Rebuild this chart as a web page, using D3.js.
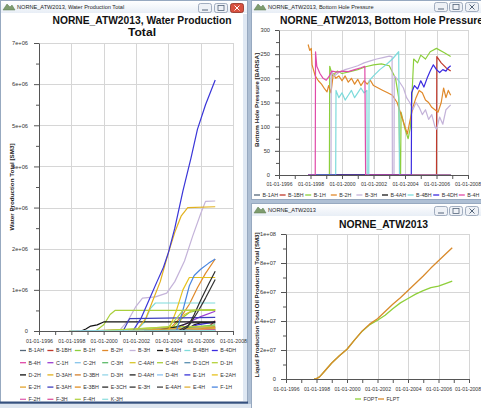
<!DOCTYPE html>
<html><head><meta charset="utf-8">
<script src="https://cdn.jsdelivr.net/npm/d3@7"></script>
<style>html,body{margin:0;padding:0;background:#b8c6d8;overflow:hidden}svg{display:block}</style>
</head><body><svg id="c" width="481" height="408"></svg>
<script>
// ---------------- DATA ----------------
const xYears = [1996,1997,1998,1999,2000,2001,2002,2003,2004,2005,2006,2007,2008];
const xLabelYears = [1996,1998,2000,2002,2004,2006,2008];

const wellNames = ["B-1AH","B-1BH","B-1H","B-2H","B-3H","B-4AH","B-4BH","B-4DH",
  "B-4H","C-1H","C-2H","C-3H","C-4AH","C-4H","D-1CH","D-1H",
  "D-2H","D-3AH","D-3BH","D-3H","D-4AH","D-4H","E-1H","E-2AH",
  "E-2H","E-3AH","E-3BH","E-3CH","E-3H","E-4AH","E-4H","F-1H",
  "F-2H","F-3H","F-4H","K-3H"];

const wellColors = ["#56687a","#c0392b","#8ccf3c","#e0892a","#c4b3d9","#1a1a1a","#7edbdb","#3b2be0",
  "#e04aa8","#9b3fd0","#86c5ea","#5dbb6a","#d9c72b","#a9cf3d","#5a8fb0","#b5d23a",
  "#111111","#e2b21f","#d4802e","#95d6e8","#222222","#8cc4f0","#3a35d8","#e6c21e",
  "#e3a52f","#3e3fbf","#e08f24","#2b2b2b","#333333","#444444","#dfb13a","#4a86e0",
  "#e266b4","#e0559e","#b3d344","#92e0e0"];

// Water production total [SM3]: [year, value] per well (same order as wellNames)
const waterValues = [
  [[2004.8,0],[2005.5,0.02e6],[2006.9,0.08e6]],
  [[2006.0,0],[2006.5,0.1e6],[2006.9,0.25e6]],
  [[1999.2,0],[2001,0.02e6],[2003,0.05e6],[2004.3,0.1e6],[2004.8,0.3e6],[2005.3,0.45e6],[2005.8,0.5e6],[2006.9,0.52e6]],
  [[1997.85,0],[2001,0.01e6],[2003,0.04e6],[2004.2,0.1e6],[2004.8,0.35e6],[2005.3,0.65e6],[2005.8,1.05e6],[2006.3,1.4e6],[2006.9,1.75e6]],
  [[1999.3,0],[2001.0,0.02e6],[2001.5,0.25e6],[2002.0,0.6e6],[2002.4,0.8e6],[2003.2,0.83e6],[2003.9,0.92e6],[2004.4,1.2e6],[2005.0,1.7e6],[2005.5,2.3e6],[2006.0,2.85e6],[2006.3,3.15e6],[2006.9,3.16e6]],
  [[2005.0,0],[2005.6,0.15e6],[2006.0,0.2e6],[2006.9,0.2e6]],
  [[1999.6,0],[2002.0,0.01e6],[2002.5,0.2e6],[2002.9,0.55e6],[2003.2,0.68e6],[2006.9,0.68e6]],
  [[2004.4,0],[2005.0,0.05e6],[2005.8,0.15e6],[2006.9,0.22e6]],
  [[1998.3,0],[2001.5,0.03e6],[2006.9,0.03e6]],
  [[2000.5,0],[2004.5,0.05e6],[2005.2,0.2e6],[2006.0,0.35e6],[2006.9,0.48e6]],
  [[2000.0,0],[2004.0,0.05e6],[2006.9,0.1e6]],
  [[2001.0,0],[2004.5,0.05e6],[2006.9,0.15e6]],
  [[2003.5,0],[2004.5,0.1e6],[2005.0,0.4e6],[2005.5,0.5e6],[2006.9,0.5e6]],
  [[1999.5,0],[2000.0,0.15e6],[2000.4,0.4e6],[2000.7,0.5e6],[2006.9,0.5e6]],
  [[2003.0,0],[2006.9,0.05e6]],
  [[1999.0,0],[2002.0,0.05e6],[2004.0,0.1e6],[2006.9,0.12e6]],
  [[1998.6,0],[1998.9,0.05e6],[1999.2,0.12e6],[1999.6,0.15e6],[2000.0,0.22e6],[2006.9,0.22e6]],
  [[2002.0,0],[2002.6,0.3e6],[2003.1,0.8e6],[2003.5,1.2e6],[2004.0,1.9e6],[2004.4,2.4e6],[2004.8,2.8e6],[2005.2,3.0e6],[2006.9,3.02e6]],
  [[2004.0,0],[2006.0,0.05e6],[2006.9,0.1e6]],
  [[1998.0,0],[2006.9,0.02e6]],
  [[2003.0,0],[2004.5,0.1e6],[2005.3,0.2e6],[2006.9,0.2e6]],
  [[1998.5,0],[2006.9,0.03e6]],
  [[2001.8,0],[2002.3,0.3e6],[2002.8,0.75e6],[2003.3,1.2e6],[2003.7,1.55e6],[2004.0,1.9e6],[2004.4,2.5e6],[2004.9,3.4e6],[2005.4,4.2e6],[2005.8,4.9e6],[2006.3,5.5e6],[2006.9,6.1e6]],
  [[2004.0,0],[2004.5,0.5e6],[2004.9,1.0e6],[2005.3,1.3e6],[2006.9,1.3e6]],
  [[2001.5,0],[2004.0,0.05e6],[2006.9,0.08e6]],
  [[2001.2,0],[2001.6,0.3e6],[2006.9,0.33e6]],
  [[2005.5,0],[2006.9,0.05e6]],
  [[2004.8,0],[2005.2,0.1e6],[2005.6,0.4e6],[2006.0,0.75e6],[2006.5,1.15e6],[2006.9,1.45e6]],
  [[2004.6,0],[2005.3,0.15e6],[2005.8,0.45e6],[2006.3,0.8e6],[2006.9,1.25e6]],
  [[2002.5,0],[2006.9,0.02e6]],
  [[2004.5,0],[2006.9,0.06e6]],
  [[2004.5,0],[2004.9,0.5e6],[2005.3,1.1e6],[2005.6,1.35e6],[2006.0,1.5e6],[2006.5,1.65e6],[2006.9,1.75e6]],
  [[2004.0,0],[2006.9,0.02e6]],
  [[2004.5,0],[2006.9,0.02e6]],
  [[2000.0,0],[2002.0,0.05e6],[2004.0,0.1e6],[2004.5,0.3e6],[2004.9,0.5e6],[2006.9,0.52e6]],
  [[1997.85,0],[2006.9,0.01e6]]
];
const waterTicks = [0,1e6,2e6,3e6,4e6,5e6,6e6,7e6];
const waterMinor = [0.5e6,1.5e6,2.5e6,3.5e6,4.5e6,5.5e6,6.5e6];

// Bottom hole pressure [BARSA]
const bhpWells = ["B-1AH","B-1BH","B-1H","B-2H","B-3H","B-4AH","B-4BH","B-4DH","B-4H"];
const bhpValues = [
  [[1997.85,0],[2006.9,0]],
  [[1997.85,0],[2006.0,0],[2006.02,245],[2006.3,232],[2006.6,222],[2006.9,215]],
  [[1997.85,0],[1999.2,0],[1999.22,225],[1999.4,205],[1999.7,215],[2000.0,210],[2000.5,214],[2001.0,218],[2001.5,224],[2002.0,228],[2002.5,230],[2003.0,226],[2003.4,200],[2003.6,160],[2003.68,0],[2003.72,0],[2003.75,130],[2004.0,95],[2004.2,75],[2004.35,100],[2004.45,170],[2004.55,240],[2004.8,232],[2005.0,248],[2005.3,240],[2005.6,255],[2006.0,262],[2006.5,253],[2006.9,245]],
  [[1997.85,270],[1997.95,258],[1998.05,262],[1998.1,228],[1998.3,205],[1998.5,195],[1998.7,188],[1998.9,178],[1999.05,172],[1999.15,185],[1999.3,170],[1999.45,210],[1999.6,200],[1999.8,205],[2000.0,195],[2000.2,205],[2000.4,192],[2000.6,200],[2000.8,188],[2001.0,198],[2001.2,185],[2001.4,195],[2001.6,188],[2001.8,196],[2002.0,185],[2002.3,180],[2002.6,175],[2002.9,170],[2003.2,165],[2003.5,150],[2003.8,120],[2004.0,100],[2004.15,85],[2004.3,110],[2004.5,140],[2004.7,160],[2004.9,175],[2005.1,170],[2005.3,155],[2005.5,150],[2005.7,140],[2005.9,135],[2006.1,130],[2006.3,150],[2006.45,180],[2006.6,160],[2006.75,175],[2006.9,165]],
  [[1997.85,0],[1999.3,0],[1999.32,215],[1999.5,205],[1999.8,212],[2000.2,218],[2000.6,222],[2001.0,226],[2001.4,232],[2001.8,236],[2002.2,240],[2002.6,243],[2003.0,246],[2003.18,245],[2003.2,0],[2003.3,0],[2003.32,205],[2003.6,195],[2003.9,180],[2004.1,160],[2004.3,150],[2004.5,135],[2004.7,150],[2004.9,140],[2005.1,125],[2005.3,135],[2005.5,115],[2005.7,125],[2005.9,100],[2006.0,95],[2006.2,120],[2006.4,105],[2006.6,135],[2006.9,145]],
  [[1997.85,0],[2006.9,0]],
  [[1997.85,0],[1999.6,0],[1999.62,175],[1999.8,160],[2000.0,170],[2000.2,155],[2000.4,165],[2000.6,175],[2000.8,160],[2001.0,170],[2001.2,180],[2001.4,170],[2001.58,175],[2001.6,0],[2001.7,0],[2001.72,195],[2002.0,205],[2002.4,218],[2002.8,228],[2003.2,240],[2003.6,255],[2003.65,0],[2006.9,0]],
  [[1997.85,0],[2004.4,0],[2004.42,170],[2004.6,185],[2004.8,178],[2005.0,195],[2005.2,182],[2005.4,200],[2005.6,215],[2005.8,228],[2006.0,218],[2006.2,212],[2006.4,218],[2006.6,215],[2006.75,222],[2006.9,226]],
  [[1997.85,0],[1998.3,0],[1998.32,255],[1998.4,225],[1998.6,210],[1998.8,200],[1999.0,196],[1999.2,205],[1999.35,215],[1999.7,213],[2000.0,215],[2000.4,214],[2000.8,218],[2001.2,222],[2001.45,225],[2001.5,0],[2006.9,0]]
];
const bhpTicks = [0,50,100,150,200,250,300];
const bhpMinor = [25,75,125,175,225,275];

// Field totals [SM3]
const fieldNames = ["FOPT","FLPT"];
const foptValues = [[1997.85,0],[1998.0,0.3e6],[1998.2,1.5e6],[1998.5,5e6],[1999.0,1.1e7],[1999.5,1.6e7],[2000.0,2.05e7],[2000.5,2.7e7],[2001.0,3.3e7],[2001.5,3.75e7],[2002.0,4.05e7],[2002.5,4.4e7],[2003.0,4.85e7],[2003.5,5.25e7],[2004.0,5.55e7],[2004.5,5.85e7],[2005.0,6.1e7],[2005.5,6.3e7],[2006.0,6.4e7],[2006.5,6.6e7],[2006.9,6.75e7]];
const flptValues = [[1997.85,0],[1998.0,0.3e6],[1998.2,1.5e6],[1998.5,5e6],[1999.0,1.1e7],[1999.5,1.6e7],[2000.0,2.05e7],[2000.5,2.7e7],[2001.0,3.32e7],[2001.5,3.8e7],[2002.0,4.15e7],[2002.5,4.65e7],[2003.0,5.15e7],[2003.5,5.6e7],[2004.0,6.1e7],[2004.5,6.6e7],[2005.0,7.1e7],[2005.5,7.65e7],[2006.0,8.15e7],[2006.5,8.65e7],[2006.9,9.05e7]];
const fieldColors = ["#8fcf3a","#d98a2b"];
const oilTicks = [0,2e7,4e7,6e7,8e7,1e8];
const oilMinor = [1e7,3e7,5e7,7e7,9e7];

// ---------------- DRAW ----------------
const FONT = "'Liberation Sans', Arial, sans-serif";
const W = 481;
const svg = d3.select("#c");
const defs = svg.append("defs");
const grad = defs.append("linearGradient").attr("id","tb").attr("x1",0).attr("y1",0).attr("x2",0).attr("y2",1);
grad.append("stop").attr("offset","0%").attr("stop-color","#ffffff");
grad.append("stop").attr("offset","100%").attr("stop-color","#e8eef6");

svg.append("rect").attr("width",481).attr("height",408).attr("fill","#aebfd4");

function windowFrame(x, y, w, h, caption) {
  const g = svg.append("g");
  g.append("rect").attr("x",x+0.5).attr("y",y+0.5).attr("width",w).attr("height",h)
    .attr("fill","#fff").attr("stroke","#97a9c0");
  g.append("rect").attr("x",x+1).attr("y",y+1).attr("width",w-1).attr("height",12).attr("fill","url(#tb)");
  g.append("path").attr("d",`M${x+3},${y+10} L${x+7},${y+4} L${x+10},${y+7} L${x+12},${y+5} L${x+15},${y+10} Z`)
    .attr("fill","#7e9c6e").attr("stroke","#5b7a50").attr("stroke-width",0.5);
  g.append("text").attr("x",x+17).attr("y",y+9).attr("font-family",FONT).attr("font-size",5.6)
    .attr("fill","#1e1e1e").text(caption);
  return g;
}
function buttons(xs, y, activeClose) {
  xs.forEach((bx,i)=>{
    const red = i===2 && activeClose;
    svg.append("rect").attr("x",bx+0.5).attr("y",y+0.5).attr("width",13).attr("height",9).attr("rx",2)
      .attr("fill", red ? "#d8503f" : "#eef1f6").attr("stroke", red ? "#8d2f22" : "#8d9bb0").attr("stroke-width",0.8);
    const cx = bx+7, cy = y+5;
    const col = red ? "#fff" : "#55657a";
    if (i===0) svg.append("line").attr("x1",cx-3).attr("x2",cx+3).attr("y1",cy+2).attr("y2",cy+2).attr("stroke",col).attr("stroke-width",1);
    if (i===1) svg.append("rect").attr("x",cx-3).attr("y",cy-2.5).attr("width",6).attr("height",5).attr("fill","none").attr("stroke",col).attr("stroke-width",0.8);
    if (i===2) svg.append("path").attr("d",`M${cx-2.5},${cy-2.5}L${cx+2.5},${cy+2.5}M${cx+2.5},${cy-2.5}L${cx-2.5},${cy+2.5}`).attr("stroke",col).attr("stroke-width",1);
  });
}

windowFrame(0,0,247,403,"NORNE_ATW2013, Water Production Total");
buttons([198,214,230],3,true);
svg.append("rect").attr("x",0).attr("y",401.5).attr("width",248).attr("height",2).attr("fill","#35507e");
svg.append("rect").attr("x",0).attr("y",404).attr("width",251).attr("height",4).attr("fill","#dde5ef");
svg.append("rect").attr("x",243).attr("y",14).attr("width",4).attr("height",387).attr("fill","#dfe8f3");

windowFrame(251,0,240,199,"NORNE_ATW2013, Bottom Hole Pressure");
buttons([434,449,465],2,false);
windowFrame(251,203,240,206,"NORNE_ATW2013");
buttons([434,449,465],206,false);

function drawPanel(o) {
  const x = d3.scaleLinear().domain([1996,2008]).range([o.left,o.right]);
  const y = d3.scaleLinear().domain([0,o.ymax]).range([o.bottom,o.top]);
  const g = svg.append("g");
  g.append("g").selectAll("line").data(xLabelYears).join("line")
    .attr("x1",d=>Math.round(x(d))+0.5).attr("x2",d=>Math.round(x(d))+0.5)
    .attr("y1",o.top).attr("y2",o.bottom).attr("stroke","#d6d6d6");
  g.append("g").selectAll("line").data(o.yTicks).join("line")
    .attr("y1",d=>Math.round(y(d))+0.5).attr("y2",d=>Math.round(y(d))+0.5)
    .attr("x1",o.left).attr("x2",o.right).attr("stroke","#d6d6d6");
  const line = d3.line().x(d=>x(d[0])).y(d=>y(d[1]));
  const lg = g.append("g").attr("fill","none").attr("stroke-width",o.sw).attr("stroke-linejoin","round");
  o.series.forEach((s,i)=> lg.append("path").attr("d",line(s)).attr("stroke",o.colors[i]));
  const xa = g.append("g").attr("transform",`translate(0,${Math.round(o.bottom)})`)
    .call(d3.axisBottom(x).tickValues(xYears).tickFormat(d=>d%2===0?"01-01-"+d:"")
      .tickSize(4).tickSizeOuter(0).tickPadding(o.xPad));
  const ya = g.append("g").attr("transform",`translate(${Math.round(o.left)},0)`)
    .call(d3.axisLeft(y).tickValues(o.yTicks.concat(o.yMinor))
      .tickFormat(d=>o.yMinor.includes(d)?"":o.fmt(d))
      .tickSize(o.yTick).tickSizeOuter(0).tickPadding(o.yPad));
  ya.selectAll(".tick").filter(d=>o.yMinor.includes(d)).select("line").attr("x2",-3);
  xa.attr("font-size",o.xfs||5.3); ya.attr("font-size",5.7);
  [xa,ya].forEach(a=>{a.attr("font-family",FONT); a.selectAll("line,path").attr("stroke","#555"); a.selectAll("text").attr("fill","#333");});
  // nudge the last label just enough to stay inside the page
  xa.selectAll(".tick").filter(d=>d===2008).select("text").each(function(){
    const w = this.getComputedTextLength();
    const over = x(2008) + w/2 - (W - 0.5);
    if (over > 0) d3.select(this).attr("x", -over);
  });
  return {x,y,g};
}

function ytitle(cx, cy, len, txt) {
  svg.append("text").attr("transform",`translate(${cx},${cy}) rotate(-90)`)
    .attr("text-anchor","middle").attr("font-family",FONT).attr("font-weight","bold")
    .attr("font-size",5.4).attr("fill","#222").attr("textLength",len).attr("lengthAdjust","spacingAndGlyphs").text(txt);
}
function title(cx, baseline, len, txt) {
  svg.append("text").attr("x",cx).attr("y",baseline).attr("text-anchor","middle")
    .attr("font-family",FONT).attr("font-weight","bold").attr("font-size",10.3).attr("fill","#111")
    .attr("textLength",len).attr("lengthAdjust","spacingAndGlyphs").text(txt);
}
function legendItem(x, y, color, name) {
  svg.append("line").attr("x1",x).attr("x2",x+6).attr("y1",y).attr("y2",y).attr("stroke",color).attr("stroke-width",1.3);
  svg.append("text").attr("x",x+8.5).attr("y",y+1.9).attr("font-family",FONT).attr("font-size",5.3).attr("fill","#333").text(name);
}

// Left: water production
const eFmt = p => d => d===0 ? "0" : (d/Math.pow(10,p))+"e+"+String(p).padStart(2,"0");
drawPanel({left:39,right:233,top:43,bottom:331,ymax:7e6,yTicks:waterTicks,yMinor:waterMinor,
  fmt:eFmt(6),series:waterValues,colors:wellColors,sw:1.2,xPad:4,yTick:5,yPad:6});
title(142,23.5,179,"NORNE_ATW2013, Water Production");
title(142,35.5,28,"Total");
ytitle(14,187,87,"Water Production Total [SM3]");
wellNames.forEach((n,i)=> legendItem(20+(i%8)*27.4, 350.5+Math.floor(i/8)*12.2, wellColors[i], n));

// Top right: bottom hole pressure
drawPanel({left:279,right:468,top:30,bottom:175,ymax:300,yTicks:bhpTicks,yMinor:bhpMinor,
  fmt:d=>String(d),series:bhpValues,colors:wellColors,sw:1.2,xPad:3,yTick:4,yPad:5,xfs:5.1});
title(381.5,23.5,203,"NORNE_ATW2013, Bottom Hole Pressure");
ytitle(259,100,94,"Bottom Hole Pressure [BARSA]");
bhpWells.forEach((n,i)=> legendItem(254+i*25.6, 195, wellColors[i], n));

// Bottom right: field totals
drawPanel({left:286,right:469,top:234,bottom:379,ymax:1e8,yTicks:oilTicks,yMinor:oilMinor,
  fmt:d=>{ if(d===0) return "0"; const p=Math.floor(Math.log10(d)+1e-9); return Math.round(d/Math.pow(10,p))+"e+"+String(p).padStart(2,"0"); },
  series:[foptValues,flptValues],colors:fieldColors,sw:1.3,xPad:4,yTick:5,yPad:5,xfs:5.1});
title(383.5,227.5,89,"NORNE_ATW2013");
ytitle(259,305,145,"Liquid Production Total Oil Production Total [SM3]");
fieldNames.forEach((n,i)=> legendItem(355+i*23, 399, fieldColors[i], n));
</script></body></html>
